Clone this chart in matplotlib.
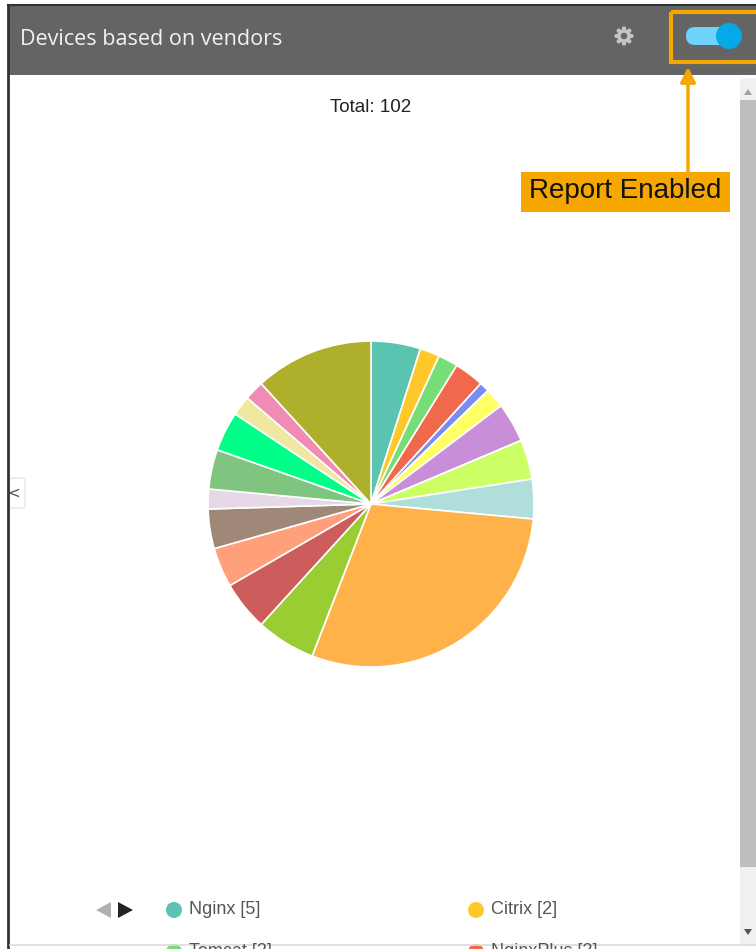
import math
import matplotlib
matplotlib.use("Agg")
import matplotlib.pyplot as plt
from matplotlib.patches import Rectangle, FancyBboxPatch, Circle, Polygon

# vendor counts, clockwise from 12 o'clock (only the first four are named in the visible legend)
vendors = ["Nginx", "Citrix", "Tomcat", "NginxPlus", "Vendor 5", "Vendor 6", "Vendor 7",
           "Vendor 8", "Vendor 9", "Vendor 10", "Vendor 11", "Vendor 12", "Vendor 13",
           "Vendor 14", "Vendor 15", "Vendor 16", "Vendor 17", "Vendor 18", "Vendor 19",
           "Vendor 20"]
counts = [5, 2, 2, 3, 1, 2, 4, 4, 4, 30, 6, 5, 4, 4, 2, 4, 4, 2, 2, 12]
colors = ["#5bc4b0", "#ffc82a", "#77dd77", "#f0694d", "#7b8cf0", "#ffff66", "#c98ed8",
          "#ccff66", "#b0dedb", "#ffb24a", "#9acd32", "#cd5c5c", "#ffa07a", "#a08878",
          "#e6d8e6", "#7fc47f", "#00ff88", "#f0e8a0", "#f08cb4", "#aeb02c"]
title = "Devices based on vendors"
legend_shown = 4

W, H = 756, 949
fig = plt.figure(figsize=(W / 100, H / 100), dpi=100)
fig.patch.set_facecolor("white")

# background axes in pixel coordinates
bg = fig.add_axes([0, 0, 1, 1])
bg.set_xlim(0, W)
bg.set_ylim(H, 0)
bg.axis("off")

# panel frame and header
bg.add_patch(Rectangle((8, 5), W, 70, facecolor="#646464", edgecolor="none"))
bg.plot([8, 8], [5, H], color="#333333", lw=2)
bg.plot([8, W], [5, 5], color="#333333", lw=1.5)
bg.text(20, 39, title, color="#f2f2f2", fontsize=15.5, family="Open Sans", va="center")

# gear icon
gear = "#c4c4c4"
bg.add_patch(Circle((624, 36), 7, facecolor=gear, edgecolor="none"))
for k in range(8):
    a = k * math.pi / 4
    bg.add_patch(Circle((624 + 7.5 * math.cos(a), 36 + 7.5 * math.sin(a)), 2.1,
                        facecolor=gear, edgecolor="none"))
bg.add_patch(Circle((624, 36), 3.2, facecolor="#646464", edgecolor="none"))

# toggle switch
bg.add_patch(FancyBboxPatch((686, 27), 52, 18, boxstyle="round,pad=0,rounding_size=9",
                            facecolor="#6fd3fb", edgecolor="none"))
bg.add_patch(Circle((729, 36), 13, facecolor="#05a9e8", edgecolor="none"))
bg.add_patch(Rectangle((671, 12), 100, 50, facecolor="none", edgecolor="#f5a700", lw=3))

# annotation arrow and label
bg.annotate("", xy=(688, 64), xytext=(688, 174),
            arrowprops=dict(arrowstyle="-|>,head_width=0.45,head_length=0.9",
                            color="#f5a700", lw=2.5))
bg.add_patch(Rectangle((521, 172), 209, 40, facecolor="#f5a700", edgecolor="none"))
bg.text(625, 191, "Report Enabled", fontsize=20, family="Liberation Sans",
        color="#111111", ha="center", va="center")

bg.text(371, 107, "Total: 102", fontsize=13.5, family="Liberation Sans",
        color="#222222", ha="center", va="center")

# scrollbar
bg.add_patch(Rectangle((740, 78), 16, 868, facecolor="#f0f0f0", edgecolor="none"))
bg.add_patch(Rectangle((740, 100), 16, 767, facecolor="#bebebe", edgecolor="none"))
bg.add_patch(Polygon([[744, 95], [752, 95], [748, 89]], facecolor="#a0a0a0"))
bg.add_patch(Polygon([[744, 929], [752, 929], [748, 935]], facecolor="#555555"))
bg.plot([10, W], [945, 945], color="#dddddd", lw=1.2)

# left collapse tab
bg.add_patch(FancyBboxPatch((9, 478), 16, 30, boxstyle="round,pad=0,rounding_size=4",
                            facecolor="white", edgecolor="#e6e6e6", lw=1))
bg.text(14, 493, "<", fontsize=11, color="#555555", va="center", ha="center")

# legend arrows
bg.add_patch(Polygon([[111, 902], [111, 918], [96, 910]], facecolor="#b0b0b0"))
bg.add_patch(Polygon([[118, 902], [118, 918], [133, 910]], facecolor="#222222"))

# legend entries (two columns, second row cut off at the bottom as in the screenshot)
cols_x = [174, 476]
rows_y = [910, 952]
for i in range(legend_shown):
    x = cols_x[i % 2]
    y = rows_y[i // 2]
    bg.add_patch(Circle((x, y), 8, facecolor=colors[i], edgecolor="none"))
    bg.text(x + 15, y, f"{vendors[i]} [{counts[i]}]", fontsize=13, family="Liberation Sans",
            color="#555555", va="center")

# pie chart
cx, cy, r = 371, 504, 163
ax = fig.add_axes([(cx - r) / W, (H - cy - r) / H, 2 * r / W, 2 * r / H])
ax.pie(counts, colors=colors, startangle=90, counterclock=False,
       wedgeprops=dict(edgecolor="white", linewidth=1.2))
ax.set_xlim(-1, 1)
ax.set_ylim(-1, 1)
ax.axis("off")

fig.savefig("out.png", dpi=100)
